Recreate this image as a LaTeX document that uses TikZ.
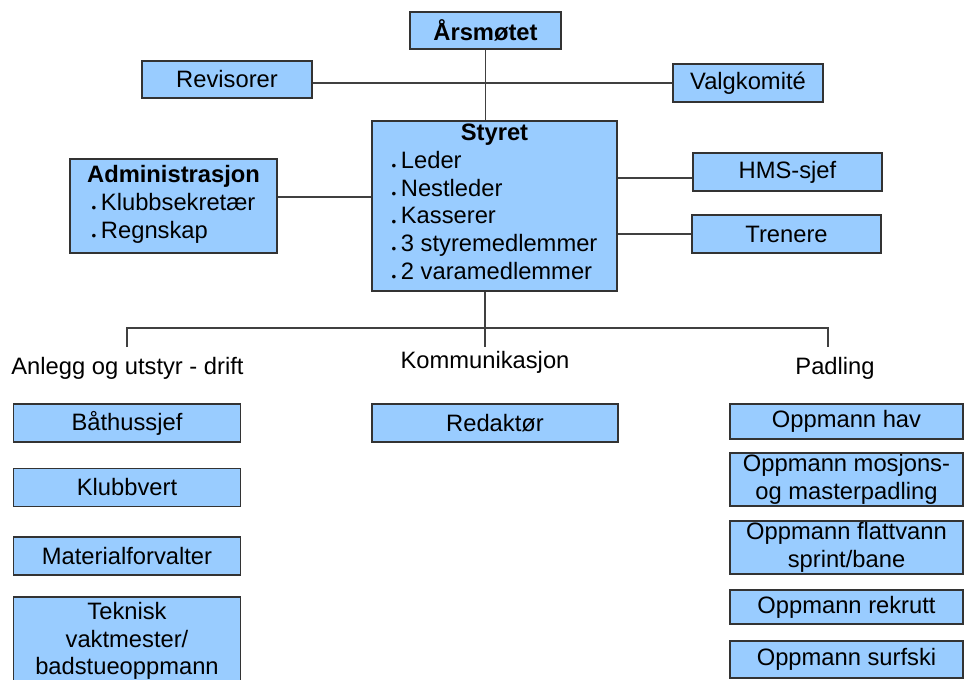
\documentclass[tikz,border=0pt]{standalone}
\usepackage{fontspec}
\setmainfont{Liberation Sans}
\definecolor{boxblue}{HTML}{99CCFF}
\newcommand{\orgfont}{\fontsize{17.8}{20.8}\selectfont}
\newcommand{\dotitem}[1]{\raisebox{-1.6pt}{\fontsize{10}{10}\selectfont •}\hspace{3.5pt}#1}
\tikzset{orgbox/.style = {shape = rectangle,
                          draw = black!80,
                          fill = boxblue,
                          line width = 0.9pt,
                          inner sep = 0pt,
                          align = center,
                          font = \orgfont},
         sz/.style 2 args = {minimum width = #1*0.75pt,
                             minimum height = #2*0.75pt},
         grouplabel/.style = {inner sep = 0pt,
                              font = \orgfont},
         link/.style = {draw = black!75,
                        line width = 0.9pt}}

\begin{document}
\begin{tikzpicture}[x=0.75pt, y=-0.75pt]
		\clip (0,0) rectangle (964,679);
		% top level
		\node[orgbox, sz={151}{37}, font=\orgfont\bfseries] (aars) at (485.5,30.5) {Årsmøtet};
		\node[orgbox, sz={170}{37}] (rev) at (227,79.5) {Revisorer};
		\node[orgbox, sz={150}{38}] (valg) at (748,83) {Valgkomité};
		\node[orgbox, sz={245}{170}] (styret) at (494.5,206) {\textbf{Styret}\\
			\begin{tabular}[t]{@{}l@{}}
				\dotitem{Leder}\\
				\dotitem{Nestleder}\\
				\dotitem{Kasserer}\\
				\dotitem{3 styremedlemmer}\\
				\dotitem{2 varamedlemmer}
			\end{tabular}};
		\node[orgbox, sz={207}{94}] (admin) at (173.5,206) {\textbf{Administrasjon}\\
			\begin{tabular}[t]{@{}l@{}}
				\dotitem{Klubbsekretær}\\
				\dotitem{Regnskap}
			\end{tabular}};
		\node[orgbox, sz={189}{38}] (hms) at (787.5,172) {HMS-sjef};
		\node[orgbox, sz={189}{38}] (tren) at (786.5,234) {Trenere};
		\path[link] (aars.south) -- (aars.south |- styret.north);
		\path[link] (valg.west) -- (valg.west -| rev.east);
		\path[link] (admin.east |- 0,197) -- (styret.west |- 0,197);
		\path[link] (styret.east |- 0,178) -- (hms.west |- 0,178);
		\path[link] (styret.east |- tren.west) -- (tren.west);
		% branches
		\coordinate (fork) at (485,328);
		\coordinate (forkL) at (127,328);
		\coordinate (forkR) at (828,328);
		\coordinate (endL) at (127,347);
		\coordinate (endM) at (485,347);
		\coordinate (endR) at (828,347);
		\path[link] (styret.south -| fork) -- (endM);
		\path[link] (endL) -- (forkL) -- (forkR) -- (endR);
		\node[grouplabel] (anlegg) at (127.5,368) {Anlegg og utstyr - drift};
		\node[grouplabel] (komm) at (485,362) {Kommunikasjon};
		\node[grouplabel] (padl) at (835,368) {Padling};
		% left column
		\node[orgbox, sz={227}{38}] (baat) at (127,423) {Båthussjef};
		\node[orgbox, sz={227}{38}] (vert) at (127,487.5) {Klubbvert};
		\node[orgbox, sz={227}{38}] (mat) at (127,556) {Materialforvalter};
		\node[orgbox, sz={227}{88}] (tek) at (127,641) {Teknisk\\vaktmester/\\badstueoppmann};
		% middle column
		\node[orgbox, sz={246}{38}] (red) at (495,423) {Redaktør};
		% right column
		\node[orgbox, sz={233}{35}] (hav) at (846.5,421.5) {Oppmann hav};
		\node[orgbox, sz={233}{53}] (mosj) at (846.5,479.5) {Oppmann mosjons-\\og masterpadling};
		\node[orgbox, sz={233}{53}] (flatt) at (846.5,547.5) {Oppmann flattvann\\sprint/bane};
		\node[orgbox, sz={233}{34}] (rekr) at (846.5,607) {Oppmann rekrutt};
		\node[orgbox, sz={233}{37}] (surf) at (846.5,659.5) {Oppmann surfski};
	\end{tikzpicture}
\end{document}
